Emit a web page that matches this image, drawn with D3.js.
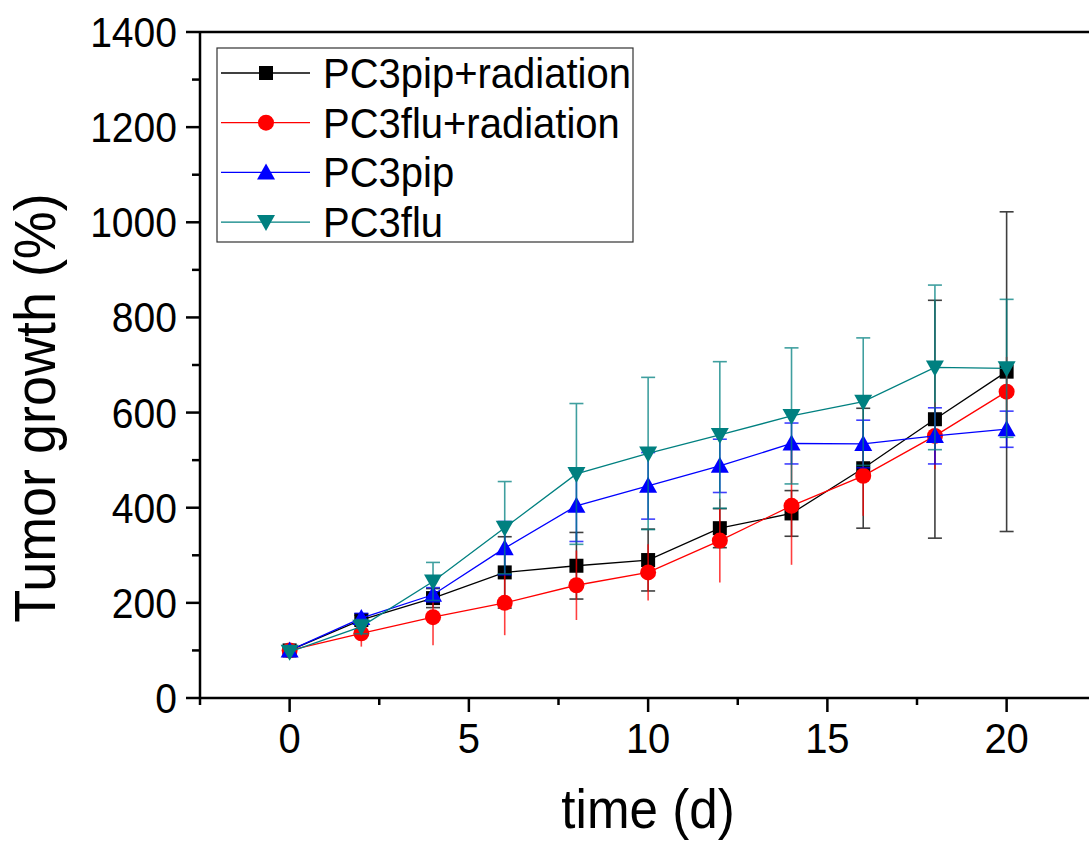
<!DOCTYPE html>
<html><head><meta charset="utf-8">
<script src="https://cdn.jsdelivr.net/npm/d3@7"></script>
<style>html,body{margin:0;padding:0;background:#fff;}svg{display:block;font-family:"Liberation Sans",Arial,sans-serif;}</style>
</head><body>
<svg id="chart" width="1089" height="844"></svg>
<script>
const days = [0,2,4,6,8,10,12,14,16,18,20];
const pipRad    = [100,164,210,264,278,290,357,388,483,586,686];
const pipRadErr = [0,10,20,75,70,65,41,48,126,250,336];
const fluRad    = [100,136,170,200,237,264,331,404,467,551,644];
const fluRadErr = [0,28,59,68,73,59,88,124,84,70,73];
const pip       = [100,168,217,315,404,446,488,535,534,551,565];
const pipErr    = [0,10,15,56,75,70,56,43,50,59,38];
const flu       = [97,150,245,358,471,514,553,593,623,695,693];
const fluErr    = [0,15,40,97,148,160,154,143,134,173,145];
const seriesNames = ["PC3pip+radiation","PC3flu+radiation","PC3pip","PC3flu"];
const yTicks = [0,200,400,600,800,1000,1200,1400];
const xTicks = [0,5,10,15,20];
const xTitle = "time (d)";
const yTitle = "Tumor growth (%)";

const series = [
  {name: seriesNames[0], vals: pipRad, err: pipRadErr, color: "#000000", shape: "square", caps: true},
  {name: seriesNames[1], vals: fluRad, err: fluRadErr, color: "#ff0000", shape: "circle", caps: false},
  {name: seriesNames[2], vals: pip, err: pipErr, color: "#0000ff", shape: "up", caps: true},
  {name: seriesNames[3], vals: flu, err: fluErr, color: "#008080", shape: "down", caps: true}
];

const svg = d3.select("#chart");
const x = d3.scaleLinear().domain([-2.5, 22.5]).range([200, 1096.25]);
const y = d3.scaleLinear().domain([0, 1400]).range([698, 32]);
const SX = 0.93;

function marker(g, shape, cx, cy, color) {
  if (shape === "square") {
    g.append("rect").attr("x", cx-7).attr("y", cy-7).attr("width", 14).attr("height", 14).attr("fill", color);
  } else if (shape === "circle") {
    g.append("circle").attr("cx", cx).attr("cy", cy).attr("r", 8).attr("fill", color);
  } else if (shape === "up") {
    g.append("path").attr("d", `M${cx},${cy-9}L${cx+9},${cy+7}L${cx-9},${cy+7}Z`).attr("fill", color);
  } else {
    g.append("path").attr("d", `M${cx},${cy+9}L${cx+9},${cy-7}L${cx-9},${cy-7}Z`).attr("fill", color);
  }
}

// axes
const axG = svg.append("g");
axG.append("line").attr("x1", x(-2.5)).attr("x2", 1089).attr("y1", y(0)).attr("y2", y(0)).attr("stroke", "#000").attr("stroke-width", 2.5);
axG.append("line").attr("x1", x(-2.5)).attr("x2", 1089).attr("y1", y(1400)).attr("y2", y(1400)).attr("stroke", "#000").attr("stroke-width", 2.5);
axG.append("line").attr("x1", x(-2.5)).attr("x2", x(-2.5)).attr("y1", y(1400)-1).attr("y2", y(0)+1).attr("stroke", "#000").attr("stroke-width", 2.5);

// x ticks
const xMinor = d3.range(-2.5, 22.6, 2.5);
xMinor.forEach(v => {
  const major = xTicks.includes(v);
  axG.append("line").attr("x1", x(v)).attr("x2", x(v)).attr("y1", y(0)).attr("y2", y(0) + (major ? 14 : 7))
    .attr("stroke", "#000").attr("stroke-width", 2.5);
});
xTicks.forEach(v => {
  axG.append("text").attr("transform", `translate(${x(v)},753) scale(${SX},1)`)
    .attr("text-anchor", "middle").attr("font-size", 43).text(v);
});
// y ticks
d3.range(0, 1401, 100).forEach(v => {
  const major = v % 200 === 0;
  axG.append("line").attr("x1", x(-2.5)).attr("x2", x(-2.5) - (major ? 14 : 8)).attr("y1", y(v)).attr("y2", y(v))
    .attr("stroke", "#000").attr("stroke-width", 2.5);
});
yTicks.forEach(v => {
  axG.append("text").attr("transform", `translate(177,${y(v)+15}) scale(${SX},1)`)
    .attr("text-anchor", "end").attr("font-size", 42).text(v);
});
// titles
svg.append("text").attr("transform", `translate(648,828) scale(${SX},1)`)
  .attr("text-anchor", "middle").attr("font-size", 55).text(xTitle);
svg.append("text").attr("transform", `translate(55,408) rotate(-90) scale(${SX},1)`)
  .attr("text-anchor", "middle").attr("font-size", 58).text(yTitle);

// data
const line = d3.line().x((d,i) => x(days[i])).y(d => y(d));
series.forEach(s => {
  const g = svg.append("g");
  s.vals.forEach((v, i) => {
    const e = s.err[i];
    if (e <= 0) return;
    const cx = x(days[i]);
    const eg = g.append("g").attr("stroke", s.color).attr("stroke-width", 1.6).attr("opacity", 0.75);
    eg.append("line").attr("x1", cx).attr("x2", cx).attr("y1", y(v - e)).attr("y2", y(v + e));
    if (s.caps) {
      eg.append("line").attr("x1", cx-7).attr("x2", cx+7).attr("y1", y(v - e)).attr("y2", y(v - e));
      eg.append("line").attr("x1", cx-7).attr("x2", cx+7).attr("y1", y(v + e)).attr("y2", y(v + e));
    }
  });
  g.append("path").attr("d", line(s.vals)).attr("fill", "none").attr("stroke", s.color).attr("stroke-width", 1.3);
  s.vals.forEach((v, i) => marker(g, s.shape, x(days[i]), y(v), s.color));
});

// legend
const lg = svg.append("g");
lg.append("rect").attr("x", 217).attr("y", 48).attr("width", 416).attr("height", 194)
  .attr("fill", "#fff").attr("stroke", "#333").attr("stroke-width", 1.2);
series.forEach((s, i) => {
  const cy = 73 + i * 49.7;
  lg.append("line").attr("x1", 221).attr("x2", 310).attr("y1", cy).attr("y2", cy).attr("stroke", s.color).attr("stroke-width", 1.3);
  marker(lg, s.shape, 266, cy, s.color);
  lg.append("text").attr("transform", `translate(323,${cy+15}) scale(${SX},1)`)
    .attr("font-size", 43).text(s.name);
});
</script>
</body></html>
